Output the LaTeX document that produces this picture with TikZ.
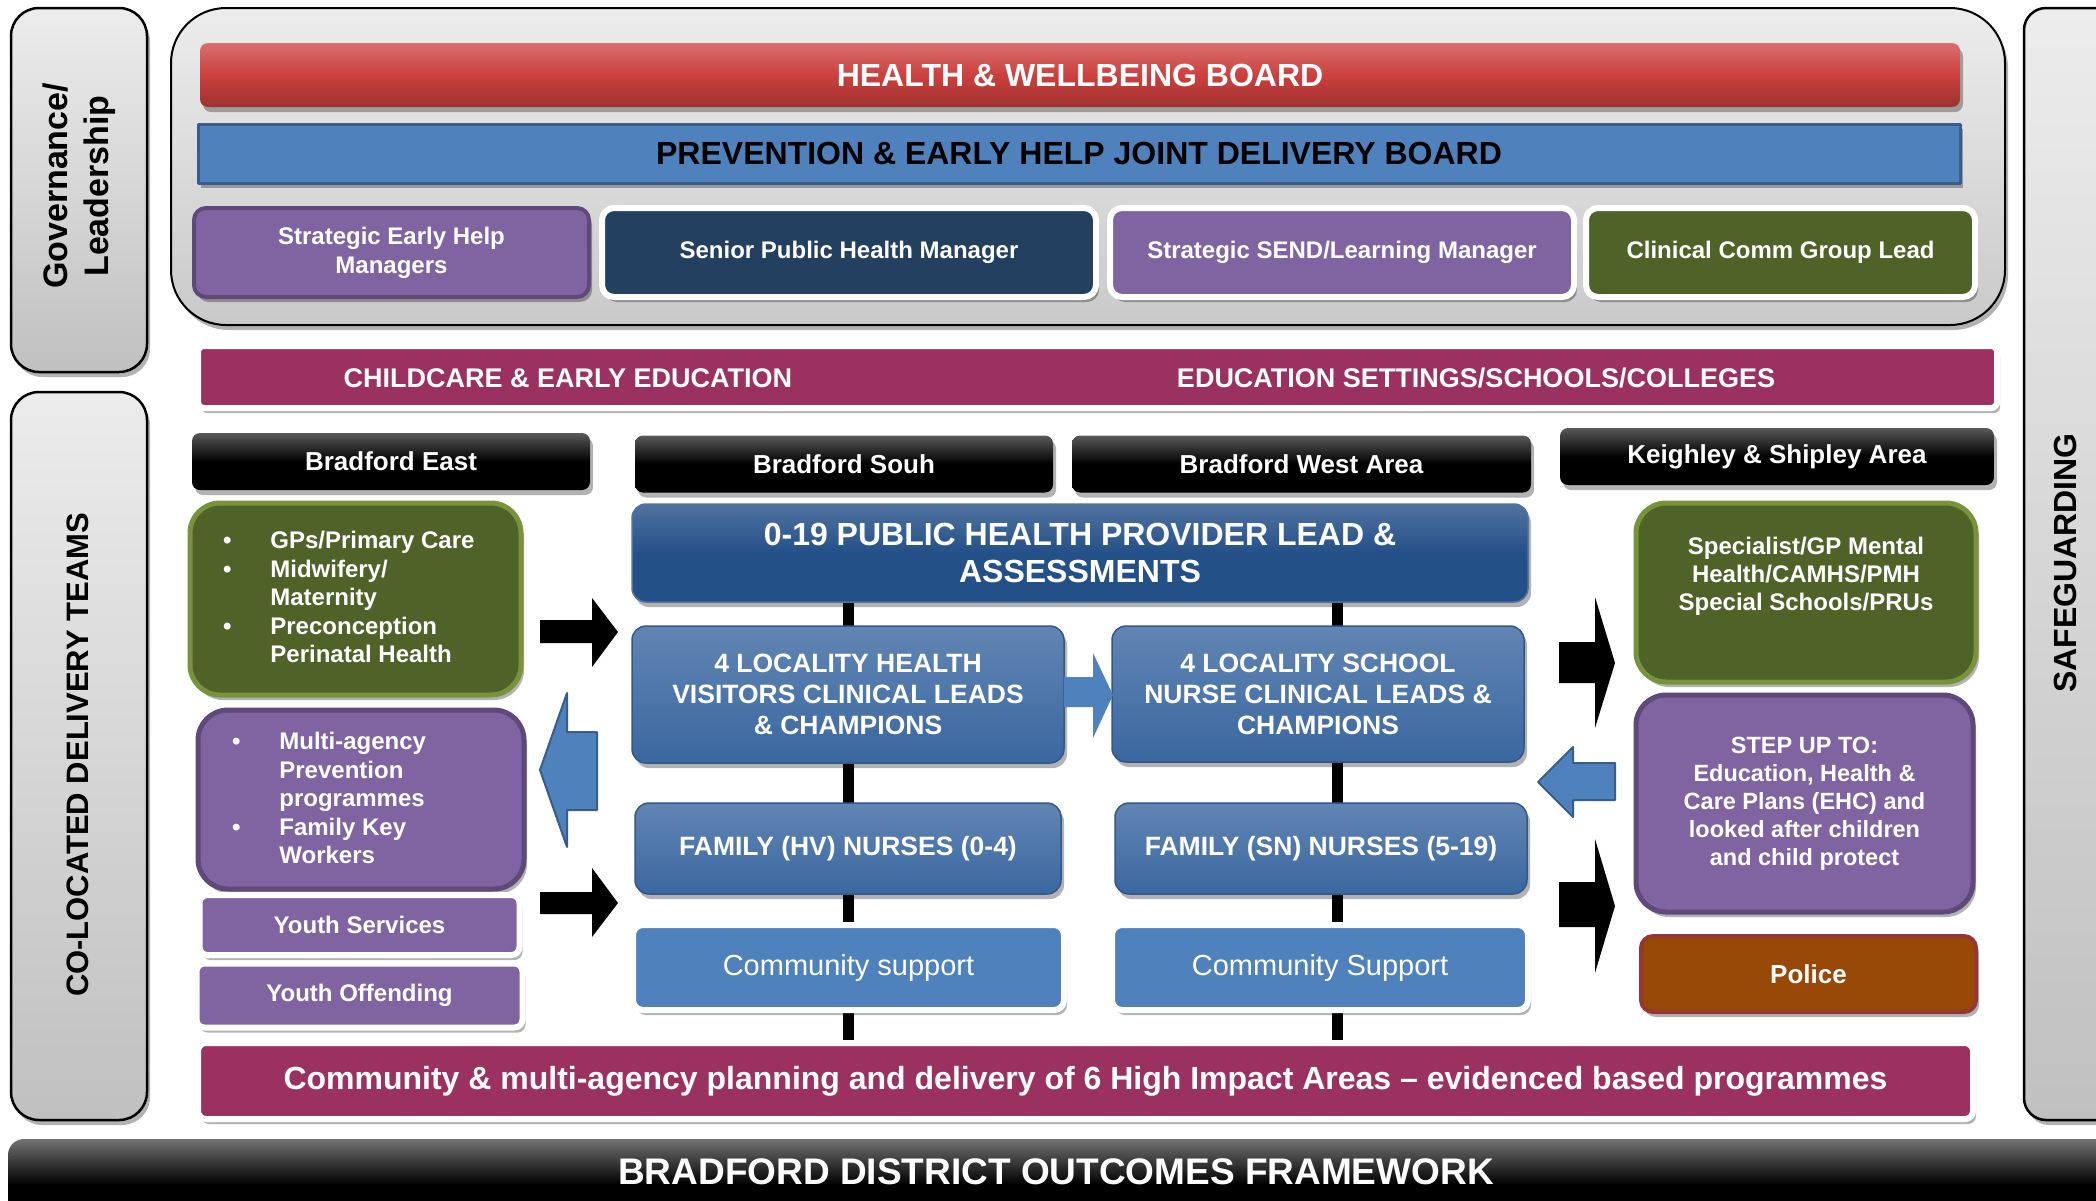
\documentclass[tikz,border=0pt]{standalone}
\usepackage{fontspec}
\setmainfont{Liberation Sans}
\usetikzlibrary{shadows,backgrounds}

\definecolor{hwred}{RGB}{204,64,62}
\definecolor{hwreddark}{RGB}{158,50,48}
\definecolor{pebblue}{RGB}{79,129,189}
\definecolor{pebborder}{RGB}{56,93,138}
\definecolor{mgrpurple}{RGB}{128,100,162}
\definecolor{mgrpurpleline}{RGB}{95,73,122}
\definecolor{mgrnavy}{RGB}{36,64,97}
\definecolor{mgrolive}{RGB}{79,98,40}
\definecolor{oliveline}{RGB}{119,147,60}
\definecolor{eduplum}{RGB}{155,49,96}
\definecolor{leadblue}{RGB}{36,80,136}
\definecolor{locblue}{RGB}{58,103,160}
\definecolor{policebrown}{RGB}{152,72,7}
\definecolor{policeline}{RGB}{149,55,53}
\definecolor{sidetop}{RGB}{236,236,236}
\definecolor{sidebot}{RGB}{192,192,192}

\newcommand{\fsz}[2]{\fontsize{#1pt}{#2pt}\selectfont}

\begin{document}
\begin{tikzpicture}[x=1pt, y=-1pt, line join=round,
    cell/.style={inner sep=0pt, outer sep=0pt, align=center, text=white, font=\bfseries},
    dims/.style 2 args={minimum width=#1pt, minimum height=#2pt},
    rim/.style={draw=white, line width=6pt},
    dropsh/.style={drop shadow={shadow xshift=3pt, shadow yshift=-5pt, opacity=.3, fill=black}},
    side/.style={cell, draw=black, line width=2.5pt, rounded corners=28pt, top color=sidetop, bottom color=sidebot, dropsh},
    header/.style={cell, rounded corners=8pt, top color=black!65, bottom color=black, middle color=black, dims={#1}{57}, font=\bfseries\fsz{26}{31}, dropsh},
    mgr/.style={cell, rounded corners=12pt, font=\bfseries\fsz{24}{29}, dropsh},
    team/.style={cell, rounded corners=14pt, top color=locblue!80!white, bottom color=locblue, draw=locblue!85!black, line width=1.5pt, dropsh},
    commbox/.style={cell, rim, fill=pebblue, rounded corners=10pt, font=\fsz{29}{34}, dims={#1}{85}, dropsh},
    listbox/.style={cell, rounded corners=30pt, line width=5pt, dropsh},
    listtext/.style={cell, anchor=west, align=left, font=\bfseries\fsz{24}{28.5}},
    spine/.style={line width=11pt, black},
    blockarrow/.style={fill=black},
    bluearrow/.style={fill=pebblue, draw=pebborder, line width=2pt}]
  \useasboundingbox (0,0) rectangle (2096,1200);
  \clip (0,0) rectangle (2096,1200);

  % side labels
  \node[side, dims={136}{364}] (gov) at (79,190) {};
  \node[font=\bfseries\fsz{34}{41}, rotate=90, align=center] (govtext) at (79,186) {Governance/\\Leadership};
  \node[side, dims={136}{728}] (teams) at (79,756) {};
  \node[font=\bfseries\fsz{31}{36}, rotate=90] (teamstext) at (78,755) {CO-LOCATED DELIVERY TEAMS};
  \node[side, rounded corners=22pt, dims={106}{1112}] (safe) at (2077,564) {};
  \node[font=\bfseries\fsz{32}{36}, rotate=90] (safetext) at (2065,563) {SAFEGUARDING};

  % governance
  \node[cell, draw=black, line width=2pt, rounded corners=55pt, top color=sidetop, bottom color=sidebot!85!white, dims={1834}{317}, dropsh] (board) at (1088,166.5) {};
  \node[cell, rounded corners=8pt, top color=hwred!75!white, bottom color=hwreddark, middle color=hwred, dims={1760}{64}, font=\bfseries\fsz{32}{38}, dropsh] (hwb) at (1080,75) {HEALTH \& WELLBEING BOARD};
  \node[cell, text=black, fill=pebblue, draw=pebborder, line width=3pt, dims={1762}{59}, font=\bfseries\fsz{32}{38}, dropsh] (jdb) at (1079,153.5) {PREVENTION \& EARLY HELP JOINT DELIVERY BOARD};
  \node[mgr, fill=mgrpurple, draw=mgrpurpleline, line width=4pt, dims={395}{89}] (seh) at (391.5,252.5) {Strategic Early Help\\Managers};
  \node[mgr, fill=mgrnavy, rim, dims={494}{89}] (sphm) at (849,252.5) {Senior Public Health Manager};
  \node[mgr, fill=mgrpurple, rim, dims={464}{89}] (send) at (1342,252.5) {Strategic SEND/Learning Manager};
  \node[mgr, fill=mgrolive, rim, dims={389}{89}] (ccg) at (1780.5,252.5) {Clinical Comm Group Lead};

  % education band
  \node[cell, fill=eduplum, rim, rounded corners=6pt, dims={1799}{62}, dropsh] (edu) at (1097.5,377) {};
  \node[cell, font=\bfseries\fsz{27}{31}] (eduleft) at (568,378) {CHILDCARE \& EARLY EDUCATION};
  \node[cell, font=\bfseries\fsz{27}{31}] (eduright) at (1476,378) {EDUCATION SETTINGS/SCHOOLS/COLLEGES};

  \foreach \name/\cx/\cy/\w/\txt in {east/391/461.5/398/Bradford East, south/844/464/418/Bradford Souh,
      west/1301.5/464/459/Bradford West Area, keighley/1777/456.5/434/Keighley \& Shipley Area}
    \node[header=\w] (\name) at (\cx,\cy) {\txt};

  % left column
  \node[listbox, fill=mgrolive, draw=oliveline, dims={331}{192}] (gp) at (355.5,599) {};
  \node[listtext] (gptext) at (223,600)
    {\begin{tabular}{@{}l@{\hspace{39pt}}l@{}}
      \textbullet & GPs/Primary Care\\
      \textbullet & Midwifery/\\
                  & Maternity\\
      \textbullet & Preconception\\
                  & Perinatal Health
    \end{tabular}};
  \node[listbox, fill=mgrpurple, draw=mgrpurpleline, dims={326}{179}] (multi) at (361,799.5) {};
  \node[listtext] (multitext) at (232,801)
    {\begin{tabular}{@{}l@{\hspace{39pt}}l@{}}
      \textbullet & Multi-agency\\
                  & Prevention\\
                  & programmes\\
      \textbullet & Family Key\\
                  & Workers
    \end{tabular}};
  \node[cell, fill=mgrpurple, rim, rounded corners=8pt, dims={320}{60}, font=\bfseries\fsz{24}{29}, dropsh] (youth) at (359.5,925) {Youth Services};
  \node[cell, fill=mgrpurple, rim, rounded corners=8pt, dims={326}{64}, font=\bfseries\fsz{24}{29}, dropsh] (offend) at (359.5,995.5) {Youth Offending};

  % centre column
  \node[cell, rounded corners=14pt, top color=leadblue!80!white, bottom color=leadblue, middle color=leadblue, draw=leadblue!80!white, line width=1.5pt, dims={896}{98}, font=\bfseries\fsz{32}{37}, dropsh] (lead) at (1080,553) {0-19 PUBLIC HEALTH PROVIDER LEAD \&\\ASSESSMENTS};
  \node[team, dims={432}{137}, font=\bfseries\fsz{26.5}{31}] (hv) at (848,694.5) {4 LOCALITY HEALTH\\VISITORS CLINICAL LEADS\\\& CHAMPIONS};
  \node[team, dims={412}{136}, font=\bfseries\fsz{26.5}{31}] (sn) at (1318,694) {4 LOCALITY SCHOOL\\NURSE CLINICAL LEADS \&\\CHAMPIONS};
  \node[team, dims={426}{91}, font=\bfseries\fsz{26.5}{29}] (hvn) at (848,848.5) {FAMILY (HV) NURSES (0-4)};
  \node[team, dims={412}{91}, font=\bfseries\fsz{26.5}{29}] (snn) at (1321,848.5) {FAMILY (SN) NURSES (5-19)};
  \node[commbox=431] (commhv) at (848.5,967.5) {Community support};
  \node[commbox=416] (commsn) at (1320,967.5) {Community Support};
  \node[cell, fill=eduplum, rim, rounded corners=8pt, dims={1775}{76}, font=\bfseries\fsz{32}{38}, dropsh] (plan) at (1085.5,1081) {Community \& multi-agency planning and delivery of 6 High Impact Areas -- evidenced based programmes};

  % right column
  \node[listbox, fill=mgrolive, draw=oliveline, dims={340}{179}] (camhs) at (1806,592.5) {};
  \node[cell, font=\bfseries\fsz{24}{28}] (camhstext) at (1806,576) {Specialist/GP Mental\\Health/CAMHS/PMH\\Special Schools/PRUs};
  \node[listbox, fill=mgrpurple, draw=mgrpurpleline, dims={337}{217}, font=\bfseries\fsz{23.5}{28}] (stepup) at (1804.5,803.5) {STEP UP TO:\\Education, Health \&\\Care Plans (EHC) and\\looked after children\\and child protect};
  \node[cell, fill=policebrown, draw=policeline, line width=4pt, rounded corners=12pt, dims={335}{76}, font=\bfseries\fsz{26}{31}, dropsh] (police) at (1808.5,974) {Police};

  % bottom bar
  \node[cell, rounded corners=16pt, top color=black!55, bottom color=black, middle color=black, dims={2122}{91}] (outcomes) at (1069,1184.5) {};
  \node[cell, font=\bfseries\fsz{37}{42}] (outcomestext) at (1056,1172) {BRADFORD DISTRICT OUTCOMES FRAMEWORK};

  % spines behind the centre boxes
  \coordinate (spineR) at (1337,602);
  \begin{scope}[on background layer]
    \draw[spine] (lead.south -| hv.south) -- (hv.south |- plan.north);
    \draw[spine] (spineR) -- (spineR |- plan.north);
  \end{scope}

  % block arrows
  \fill[blockarrow] (540,620) -- (592,620) -- (592,598) -- (618,632) -- (592,667) -- (592,643) -- (540,643) -- cycle;
  \fill[blockarrow] (540,892) -- (592,892) -- (592,868) -- (618,903) -- (592,937) -- (592,914) -- (540,914) -- cycle;
  \filldraw[bluearrow] (540,770) -- (567,693) -- (567,732) -- (597,732) -- (597,810) -- (567,810) -- (567,847) -- cycle;
  \fill[pebblue] (1064,677) -- (1093,677) -- (1093,653) -- (1113,695) -- (1093,738) -- (1093,707) -- (1064,707) -- cycle;
  \fill[blockarrow] (1559,642) -- (1595,642) -- (1595,597) -- (1615,663) -- (1595,728) -- (1595,683) -- (1559,683) -- cycle;
  \fill[blockarrow] (1559,882) -- (1595,882) -- (1595,839) -- (1615,906) -- (1595,973) -- (1595,927) -- (1559,927) -- cycle;
  \filldraw[bluearrow] (1538,782) -- (1573,747) -- (1573,763) -- (1615,763) -- (1615,800) -- (1573,800) -- (1573,817) -- cycle;
\end{tikzpicture}
\end{document}
